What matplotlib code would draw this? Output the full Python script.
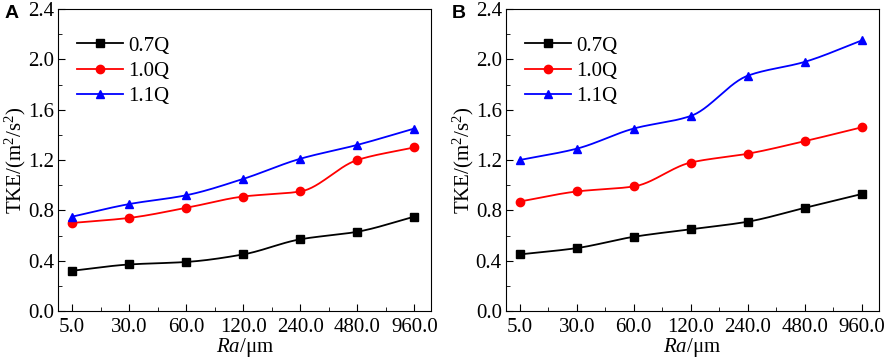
import matplotlib
matplotlib.use("Agg")
import matplotlib.pyplot as plt
import numpy as np
from matplotlib.ticker import MultipleLocator, FormatStrFormatter

plt.rcParams["font.family"] = ["Liberation Serif", "DejaVu Serif"]
plt.rcParams["mathtext.fontset"] = "custom"
plt.rcParams["mathtext.rm"] = "Liberation Serif"
plt.rcParams["mathtext.it"] = "Liberation Serif:italic"

ra_labels = ["5.0", "30.0", "60.0", "120.0", "240.0", "480.0", "960.0"]
series_names = ["0.7Q", "1.0Q", "1.1Q"]

a_07q = [0.32, 0.37, 0.39, 0.45, 0.57, 0.63, 0.75]
a_10q = [0.70, 0.74, 0.82, 0.91, 0.95, 1.20, 1.30]
a_11q = [0.75, 0.85, 0.92, 1.05, 1.21, 1.32, 1.45]

b_07q = [0.45, 0.50, 0.59, 0.65, 0.71, 0.82, 0.93]
b_10q = [0.87, 0.95, 0.99, 1.18, 1.25, 1.35, 1.46]
b_11q = [1.20, 1.29, 1.45, 1.55, 1.87, 1.98, 2.15]

colors = ["black", "#ff0000", "#0000ff"]
markers = ["s", "o", "^"]


def smooth_curve(x, y, n=30):
	"""Monotone cubic Hermite (PCHIP-style) curve through the points."""
	x = np.asarray(x, float)
	y = np.asarray(y, float)
	h = np.diff(x)
	d = np.diff(y) / h
	m = np.zeros_like(y)
	for i in range(1, len(y) - 1):
		if d[i - 1] * d[i] > 0:
			w1 = 2 * h[i] + h[i - 1]
			w2 = h[i] + 2 * h[i - 1]
			m[i] = (w1 + w2) / (w1 / d[i - 1] + w2 / d[i])
	m[0] = d[0]
	m[-1] = d[-1]
	xs, ys = [], []
	for i in range(len(x) - 1):
		t = np.linspace(0, 1, n, endpoint=(i == len(x) - 2))
		h00 = 2 * t**3 - 3 * t**2 + 1
		h10 = t**3 - 2 * t**2 + t
		h01 = -2 * t**3 + 3 * t**2
		h11 = t**3 - t**2
		xs.append(x[i] + t * h[i])
		ys.append(h00 * y[i] + h10 * h[i] * m[i] + h01 * y[i + 1] + h11 * h[i] * m[i + 1])
	return np.concatenate(xs), np.concatenate(ys)


def draw_panel(ax, data, letter):
	xs = np.arange(len(ra_labels))
	for vals, name, c, mk in zip(data, series_names, colors, markers):
		sx, sy = smooth_curve(xs, vals)
		ax.plot(sx, sy, color=c, linewidth=1.3)
		ax.plot(xs, vals, linestyle="none", marker=mk, color=c, markersize=6)
		ax.plot([], [], color=c, marker=mk, markersize=6, linewidth=1.3, label=name)
	ax.set_xlim(-0.24, 6.3)
	ax.set_ylim(0.0, 2.4)
	ax.set_xticks(xs)
	ax.set_xticklabels(ra_labels)
	ax.xaxis.set_minor_locator(MultipleLocator(0.5))
	ax.yaxis.set_major_locator(MultipleLocator(0.4))
	ax.yaxis.set_minor_locator(MultipleLocator(0.2))
	ax.yaxis.set_major_formatter(FormatStrFormatter("%.1f"))
	ax.tick_params(which="both", direction="in", labelsize=15)
	ax.tick_params(axis="x", which="major", length=5, pad=5)
	ax.tick_params(axis="y", which="major", length=5, pad=3)
	ax.tick_params(which="minor", length=3)
	ax.set_xlabel("$Ra$/μm", fontsize=15, labelpad=-1)
	ax.set_ylabel("TKE/(m$^2$/s$^2$)", fontsize=15, labelpad=0)
	ax.legend(loc="upper left", frameon=False, fontsize=15, handlelength=2.2,
		handletextpad=0.25, labelspacing=0.27, borderaxespad=0.5,
		bbox_to_anchor=(0.0, 0.972))
	ax.text(-0.145, 0.985, letter, transform=ax.transAxes, fontsize=14,
		fontweight="bold", family="Liberation Sans", va="center", ha="left")


fig, (ax1, ax2) = plt.subplots(1, 2, figsize=(8.86, 3.6), dpi=100)
fig.subplots_adjust(left=0.066, right=0.992, top=0.975, bottom=0.136, wspace=0.2)

draw_panel(ax1, [a_07q, a_10q, a_11q], "A")
draw_panel(ax2, [b_07q, b_10q, b_11q], "B")

fig.savefig("out.png", dpi=100)
